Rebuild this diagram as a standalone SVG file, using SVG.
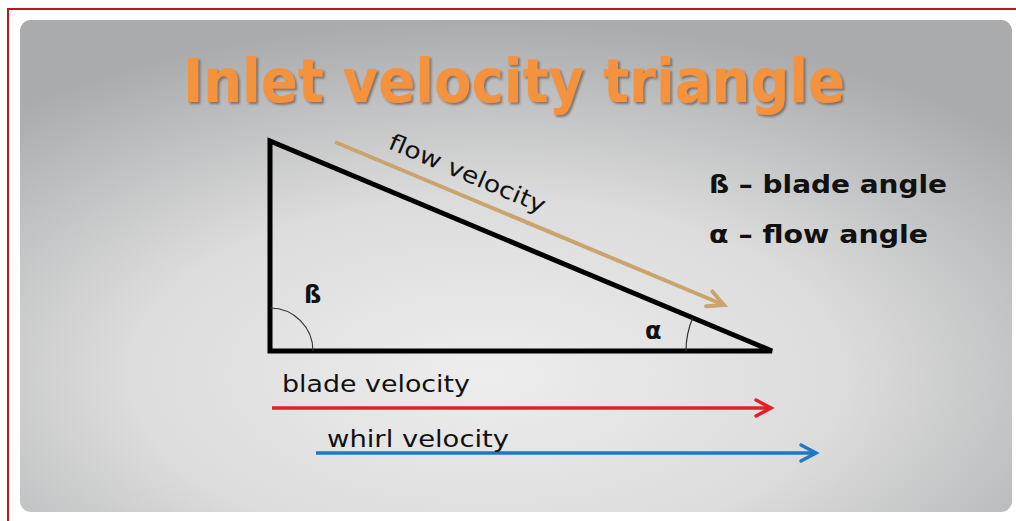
<svg xmlns="http://www.w3.org/2000/svg" width="1016" height="521" viewBox="0 0 1016 521">
<style>
.title{font-family:"DejaVu Sans",Verdana,sans-serif;font-weight:bold;font-size:60px;fill:#f5923e}
.lbl{font-family:"DejaVu Sans",Verdana,sans-serif;font-size:23px;fill:#111}
.bold{font-family:"DejaVu Sans",Verdana,sans-serif;font-weight:bold;font-size:24px;fill:#111}
.edge{fill:none;stroke:#000;stroke-width:5;stroke-linejoin:miter}
.arc{fill:none;stroke:#333;stroke-width:1.2}
</style>
<defs>
<radialGradient id="bg" cx="0.47" cy="0.72" r="0.72">
<stop offset="0" stop-color="#ededed"/>
<stop offset="0.5" stop-color="#dcdcdc"/>
<stop offset="1" stop-color="#a9abad"/>
</radialGradient>
<filter id="sh" x="-5%" y="-20%" width="110%" height="140%">
<feDropShadow dx="2" dy="2" stdDeviation="1.2" flood-color="#5a4030" flood-opacity="0.6"/>
</filter>
<marker id="mTan" markerWidth="24" markerHeight="24" refX="20" refY="10" orient="auto" markerUnits="userSpaceOnUse" viewBox="0 0 24 20">
<path d="M4,2 L20,10 L4,18" fill="none" stroke="#c9a46c" stroke-width="4" stroke-linecap="round" stroke-linejoin="miter"/>
</marker>
<marker id="mRed" markerWidth="24" markerHeight="24" refX="20" refY="10" orient="auto" markerUnits="userSpaceOnUse" viewBox="0 0 24 20">
<path d="M5,2 L20,10 L5,18" fill="none" stroke="#e3202a" stroke-width="3.5" stroke-linecap="round"/>
</marker>
<marker id="mBlue" markerWidth="24" markerHeight="24" refX="20" refY="10" orient="auto" markerUnits="userSpaceOnUse" viewBox="0 0 24 20">
<path d="M5,2 L20,10 L5,18" fill="none" stroke="#2277c2" stroke-width="3.5" stroke-linecap="round"/>
</marker>
</defs>
<rect x="0" y="0" width="1016" height="521" fill="#fff"/>
<rect x="8" y="9" width="1020" height="520" fill="#fff" stroke="#c0161e" stroke-width="2"/>
<rect x="20" y="20" width="992" height="492" rx="11" fill="url(#bg)"/>
<g id="title">
<text class="title" x="183" y="102" textLength="662" lengthAdjust="spacingAndGlyphs" filter="url(#sh)">Inlet velocity triangle</text>
</g>
<g id="triangle">
<path class="edge" d="M270,141 L270,351 L772,351 Z"/>
<path class="arc" d="M270,308 A43,43 0 0 1 313,351"/>
<path class="arc" d="M686,351 A86,86 0 0 1 692.6,318"/>
<text class="bold" x="304" y="303">ß</text>
<text class="bold" x="645" y="339">α</text>
</g>
<g id="legend">
<text class="bold" x="709" y="193" textLength="238" lengthAdjust="spacingAndGlyphs">ß – blade angle</text>
<text class="bold" x="709" y="243" textLength="219" lengthAdjust="spacingAndGlyphs">α – flow angle</text>
</g>
<g id="connectors">
<line x1="335" y1="142" x2="724" y2="305" stroke="#c9a46c" stroke-width="4" marker-end="url(#mTan)"/>
<line x1="272" y1="408" x2="771" y2="408" stroke="#e3202a" stroke-width="3.5" marker-end="url(#mRed)"/>
<line x1="316" y1="453" x2="816" y2="453" stroke="#2277c2" stroke-width="3.5" marker-end="url(#mBlue)"/>
</g>
<g id="labels">
<text class="lbl" transform="translate(387,148) rotate(23)" textLength="168" lengthAdjust="spacingAndGlyphs">flow velocity</text>
<text class="lbl" x="282" y="392" textLength="188" lengthAdjust="spacingAndGlyphs">blade velocity</text>
<text class="lbl" x="327" y="447" textLength="182" lengthAdjust="spacingAndGlyphs">whirl velocity</text>
</g>
</svg>
